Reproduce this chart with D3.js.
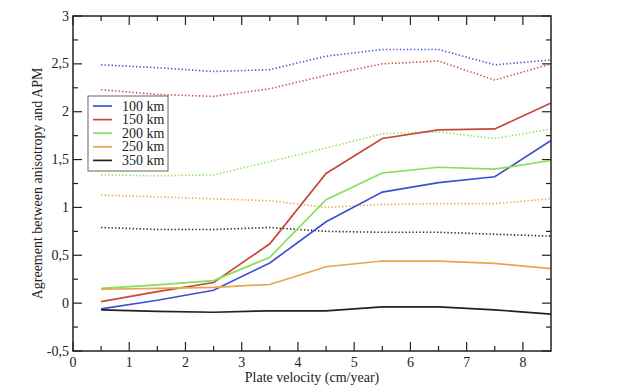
<!DOCTYPE html>
<html>
<head>
<meta charset="utf-8">
<script src="https://cdn.jsdelivr.net/npm/d3@7"></script>
<style>
  body { margin: 0; background: #fff; }
  svg text { font-family: "Liberation Serif", "Times New Roman", Times, "DejaVu Serif", serif; }
</style>
</head>
<body>
<script>
const velocity = [0.5, 1.5, 2.5, 3.5, 4.5, 5.5, 6.5, 7.5, 8.5];
const depths = ["100 km", "150 km", "200 km", "250 km", "350 km"];
const colors = ["#3d50d6", "#c8463a", "#86e05a", "#e6a64a", "#222222"];

// solid: agreement per depth
const solid100 = [-0.06, 0.03, 0.135, 0.42, 0.85, 1.16, 1.26, 1.32, 1.70];
const solid150 = [0.015, 0.12, 0.215, 0.62, 1.355, 1.72, 1.81, 1.82, 2.09];
const solid200 = [0.155, 0.19, 0.235, 0.48, 1.08, 1.36, 1.42, 1.40, 1.49];
const solid250 = [0.145, 0.155, 0.165, 0.195, 0.38, 0.44, 0.44, 0.415, 0.36];
const solid350 = [-0.07, -0.085, -0.095, -0.08, -0.08, -0.04, -0.04, -0.07, -0.115];

// dotted: reference levels per depth
const dotted100 = [2.49, 2.46, 2.42, 2.44, 2.58, 2.65, 2.65, 2.49, 2.54];
const dotted150 = [2.23, 2.18, 2.16, 2.24, 2.38, 2.50, 2.53, 2.33, 2.50];
const dotted200 = [1.34, 1.33, 1.34, 1.48, 1.62, 1.77, 1.79, 1.72, 1.82];
const dotted250 = [1.13, 1.11, 1.09, 1.07, 1.00, 1.03, 1.04, 1.04, 1.09];
const dotted350 = [0.79, 0.77, 0.77, 0.79, 0.75, 0.74, 0.74, 0.72, 0.70];

const xTicks = [0, 1, 2, 3, 4, 5, 6, 7, 8];
const yTicks = [-0.5, 0, 0.5, 1, 1.5, 2, 2.5, 3];

const solidSeries = [solid100, solid150, solid200, solid250, solid350];
const dottedSeries = [dotted100, dotted150, dotted200, dotted250, dotted350];

const W = 622, H = 391;
const m = { left: 73, right: 71, top: 16, bottom: 40 };
const FONT = "Liberation Serif, Times New Roman, DejaVu Serif, serif";

const svg = d3.select("body").append("svg")
  .attr("width", W).attr("height", H)
  .attr("font-family", FONT);

const x = d3.scaleLinear().domain([0, 8.5]).range([m.left, W - m.right]);
const y = d3.scaleLinear().domain([-0.5, 3]).range([H - m.bottom, m.top]);

const fmt = d => String(d).replace(".", ",");

// ticks (inward, on all four sides)
const ticks = svg.append("g").attr("stroke", "#222").attr("stroke-width", 1.2);
const xMinor = d3.range(0.5, 8.5, 1);
const yMinor = d3.range(-0.25, 3, 0.5);
xTicks.forEach(v => {
  ticks.append("line").attr("x1", x(v)).attr("x2", x(v)).attr("y1", y(-0.5)).attr("y2", y(-0.5) - 9);
  ticks.append("line").attr("x1", x(v)).attr("x2", x(v)).attr("y1", y(3)).attr("y2", y(3) + 9);
});
xMinor.forEach(v => {
  ticks.append("line").attr("x1", x(v)).attr("x2", x(v)).attr("y1", y(-0.5)).attr("y2", y(-0.5) - 5);
  ticks.append("line").attr("x1", x(v)).attr("x2", x(v)).attr("y1", y(3)).attr("y2", y(3) + 5);
});
yTicks.forEach(v => {
  ticks.append("line").attr("x1", x(0)).attr("x2", x(0) + 9).attr("y1", y(v)).attr("y2", y(v));
  ticks.append("line").attr("x1", x(8.5)).attr("x2", x(8.5) - 9).attr("y1", y(v)).attr("y2", y(v));
});
yMinor.forEach(v => {
  ticks.append("line").attr("x1", x(0)).attr("x2", x(0) + 5).attr("y1", y(v)).attr("y2", y(v));
  ticks.append("line").attr("x1", x(8.5)).attr("x2", x(8.5) - 5).attr("y1", y(v)).attr("y2", y(v));
});

// tick labels
svg.append("g").selectAll("text").data(xTicks).join("text")
  .attr("x", d => x(d)).attr("y", y(-0.5) + 16)
  .attr("text-anchor", "middle").attr("font-size", 14).attr("fill", "#222")
  .text(d => fmt(d));
svg.append("g").selectAll("text").data(yTicks).join("text")
  .attr("x", x(0) - 4).attr("y", d => y(d) + 4.5)
  .attr("text-anchor", "end").attr("font-size", 14).attr("fill", "#222")
  .text(d => fmt(d));

// lines
const line = (vals) => d3.line().x((d, i) => x(velocity[i])).y(d => y(d))(vals);

svg.append("g").attr("fill", "none")
  .selectAll("path").data(dottedSeries).join("path")
  .attr("d", d => line(d))
  .attr("stroke", (d, i) => colors[i])
  .attr("stroke-width", 1.6)
  .attr("stroke-dasharray", "1.3,2.2");

svg.append("g").attr("fill", "none")
  .selectAll("path").data(solidSeries).join("path")
  .attr("d", d => line(d))
  .attr("stroke", (d, i) => colors[i])
  .attr("stroke-width", 1.7);

// frame
svg.append("rect")
  .attr("x", x(0)).attr("y", y(3))
  .attr("width", x(8.5) - x(0)).attr("height", y(-0.5) - y(3))
  .attr("fill", "none").attr("stroke", "#222").attr("stroke-width", 1.5);

// axis titles
svg.append("text")
  .attr("x", (x(0) + x(8.5)) / 2).attr("y", H - 9)
  .attr("text-anchor", "middle").attr("font-size", 14).attr("fill", "#222")
  .text("Plate velocity (cm/year)");
svg.append("text")
  .attr("transform", `translate(42,${(y(-0.5) + y(3)) / 2}) rotate(-90)`)
  .attr("text-anchor", "middle").attr("font-size", 14).attr("fill", "#222")
  .text("Agreement between anisotropy and APM");

// legend
const legend = svg.append("g").attr("transform", "translate(88,96)");
legend.append("rect")
  .attr("width", 80).attr("height", 75)
  .attr("fill", "#fff").attr("stroke", "#666").attr("stroke-width", 1);
depths.forEach((dep, i) => {
  const ly = 10 + i * 13.6;
  legend.append("line")
    .attr("x1", 5).attr("x2", 24).attr("y1", ly).attr("y2", ly)
    .attr("stroke", colors[i]).attr("stroke-width", 1.7);
  legend.append("text")
    .attr("x", 34).attr("y", ly + 4.5)
    .attr("font-size", 14).attr("fill", "#222")
    .text(dep);
});
</script>
</body>
</html>
